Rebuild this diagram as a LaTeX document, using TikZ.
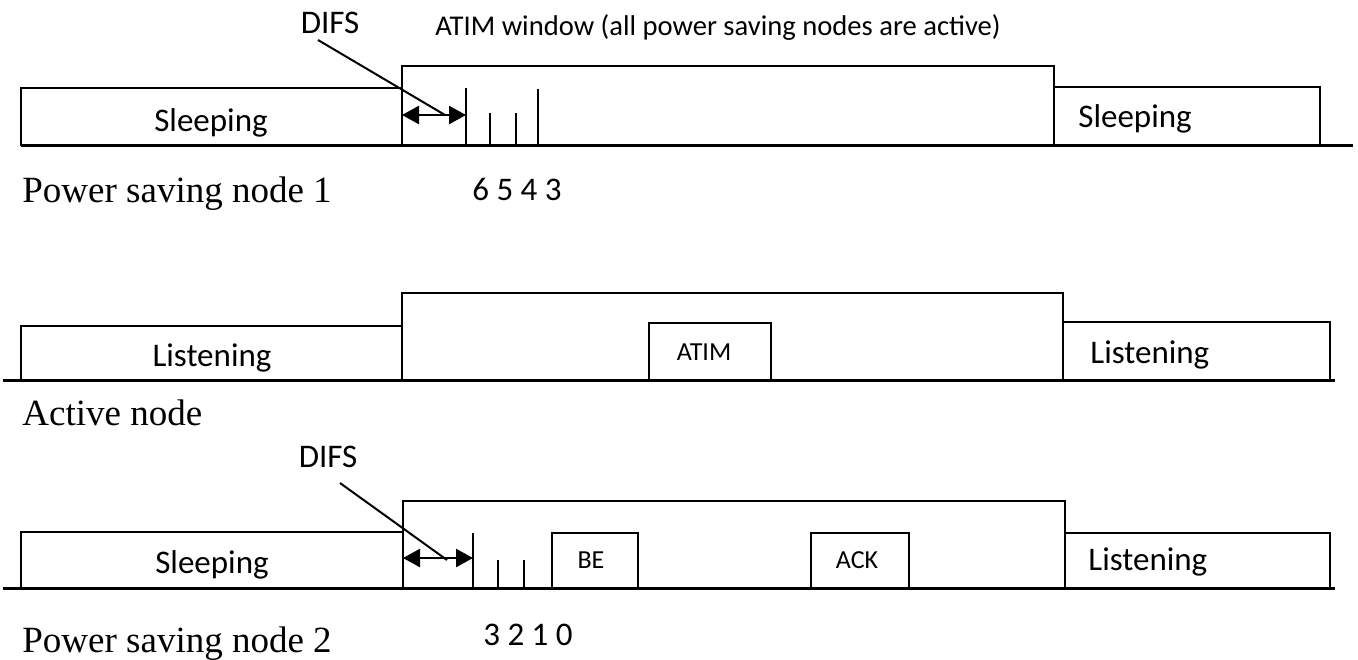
\documentclass[tikz,border=0pt]{standalone}
\usepackage{fontspec}
\setmainfont{Liberation Serif}
\newfontfamily\carlito{Carlito}
\usetikzlibrary{arrows.meta}
\tikzset{
  box-frame/.style={draw=black,line width=1.1pt},
  axis-line/.style={draw=black,line width=1.5pt},
  slot-tick/.style={draw=black,line width=1.2pt},
  leader/.style={draw=black,line width=1pt},
  arrow-difs/.style={{Triangle[length=8.5pt,width=9pt]}-{Triangle[length=8.5pt,width=9pt]},line width=1.3pt},
  lbl-state/.style={anchor=base,inner sep=0pt,font=\carlito\fontsize{16.5}{18}\selectfont},
  lbl-frame/.style={anchor=base,inner sep=0pt,font=\carlito\fontsize{13}{15}\selectfont},
  lbl-top/.style={anchor=base west,inner sep=0pt,font=\carlito\fontsize{14.3}{16}\selectfont},
  lbl-slot/.style={anchor=base,inner sep=0pt,font=\carlito\fontsize{16.5}{18}\selectfont},
  lbl-node/.style={anchor=base west,inner sep=0pt,font=\fontsize{18.5}{20}\selectfont},
}
\begin{document}
\begin{tikzpicture}[x=0.5pt,y=-0.5pt]
  \useasboundingbox (0,0) rectangle (1358,659);
  % power saving node 1
  \draw[axis-line] (21,145) -- (1353,145);
  \draw[box-frame] (21,145) rectangle (402,88);
  \draw[box-frame] (402,145) rectangle (1054,66);
  \draw[box-frame] (1054,145) rectangle (1320,87);
  \foreach \x/\t in {466/88,490/113,516/113,538/89} {
    \draw[slot-tick] (\x,145) -- (\x,\t);
  }
  \coordinate (difsA-l) at (402,115);
  \coordinate (difsA-r) at (466,115);
  \draw[arrow-difs] (difsA-l) -- (difsA-r);
  \node[lbl-state] (difsA) at (330,33) {DIFS};
  \coordinate (difsA-s) at (318,40);
  \coordinate (difsA-e) at (445,115);
  \draw[leader] (difsA-s) -- (difsA-e);
  \node[lbl-top] (atimWin) at (435,35) {ATIM window (all power saving nodes are active)};
  \node[lbl-state] (sleepA1) at (211,131) {Sleeping};
  \node[lbl-state,anchor=base west] (sleepA2) at (1078,127) {Sleeping};
  \node[lbl-slot] (slotsA) at (517,200) {6 5 4 3};
  \node[lbl-node] (nodeA) at (22,202) {Power saving node 1};

  % active node
  \draw[axis-line] (3,380) -- (1335,380);
  \draw[box-frame] (21,380) rectangle (402,326);
  \draw[box-frame] (402,380) rectangle (1063,293);
  \draw[box-frame] (649,380) rectangle (771,323);
  \draw[box-frame] (1063,380) rectangle (1330,322);
  \node[lbl-state] (listenB1) at (212,366) {Listening};
  \node[lbl-frame] (atimB) at (704,360) {ATIM};
  \node[lbl-state,anchor=base west] (listenB2) at (1090,363) {Listening};
  \node[lbl-node] (nodeB) at (22,425) {Active node};

  % power saving node 2
  \draw[axis-line] (3,588) -- (1335,588);
  \draw[box-frame] (21,588) rectangle (403,532);
  \draw[box-frame] (403,588) rectangle (1065,501);
  \draw[box-frame] (552,588) rectangle (638,533);
  \draw[box-frame] (811,588) rectangle (909,533);
  \draw[box-frame] (1065,588) rectangle (1330,533);
  \foreach \x/\t in {473/533,498/560,524/560} {
    \draw[slot-tick] (\x,588) -- (\x,\t);
  }
  \coordinate (difsC-l) at (403,558);
  \coordinate (difsC-r) at (473,558);
  \draw[arrow-difs] (difsC-l) -- (difsC-r);
  \node[lbl-state] (difsC) at (328,467) {DIFS};
  \coordinate (difsC-s) at (340,483);
  \coordinate (difsC-e) at (447,560);
  \draw[leader] (difsC-s) -- (difsC-e);
  \node[lbl-state] (sleepC1) at (212,573) {Sleeping};
  \node[lbl-frame] (beC) at (591,568) {BE};
  \node[lbl-frame] (ackC) at (857,568) {ACK};
  \node[lbl-state,anchor=base west] (listenC2) at (1088,570) {Listening};
  \node[lbl-slot] (slotsC) at (528,645) {3 2 1 0};
  \node[lbl-node] (nodeC) at (22,652) {Power saving node 2};
\end{tikzpicture}
\end{document}
